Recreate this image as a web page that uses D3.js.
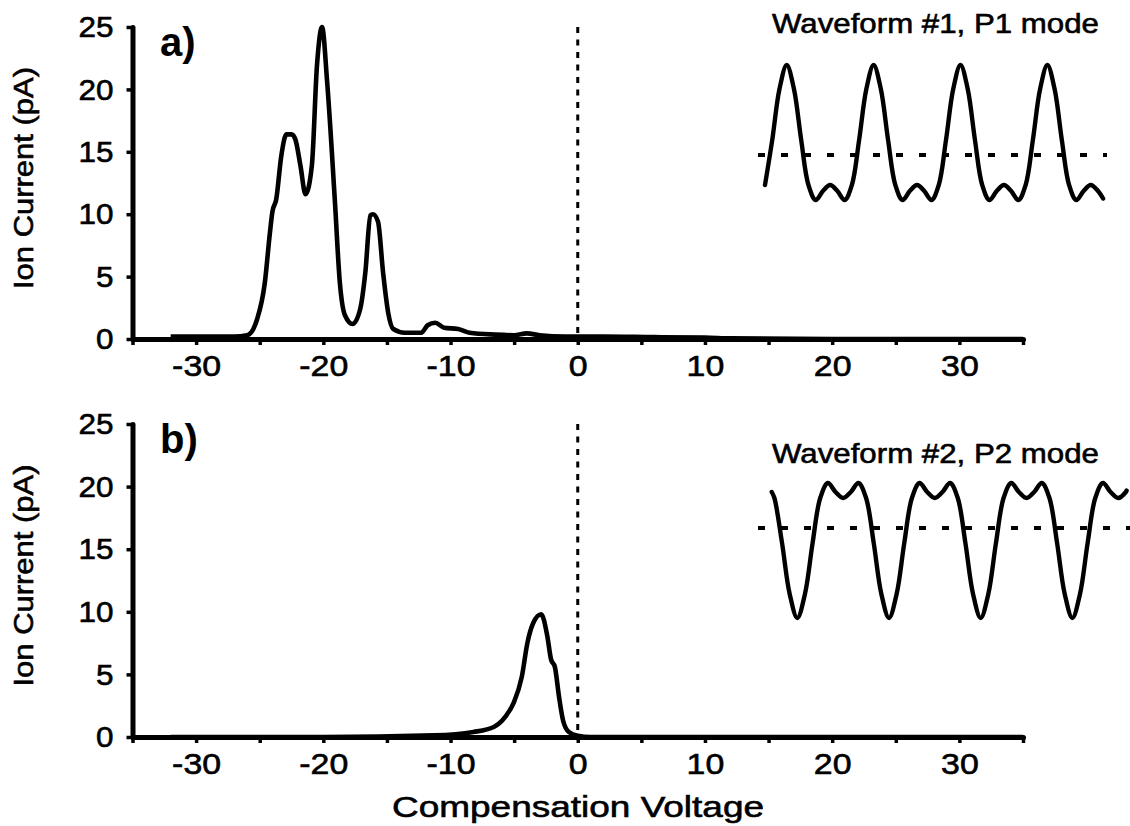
<!DOCTYPE html>
<html>
<head>
<meta charset="utf-8">
<script src="https://cdn.jsdelivr.net/npm/d3@7"></script>
<style>
  html, body { margin: 0; padding: 0; background: #fff; }
  svg { display: block; }
  text { font-family: "Liberation Sans", Arial, sans-serif; fill: #000; }
  text.heavy { stroke: #000; stroke-width: 0.6px; }
</style>
</head>
<body>
<svg id="chart" width="1130" height="826"></svg>
<script>
// ---- Data -------------------------------------------------------------
// Panel a: ion current (pA) vs compensation voltage (V), waveform #1 (P1 mode)
const cvA = [-32, -29, -27, -26, -25.5, -25.2, -24.6, -24.2, -24.0, -23.7, -23.3, -22.9, -22.5, -22.2, -21.8, -21.4, -20.9, -20.5, -20.1, -19.7, -19.1, -18.7, -18.3, -17.7, -17.1, -16.7, -16.3, -16.1, -15.7, -15.3, -14.9, -14.5, -13.6, -12.3, -11.8, -11.2, -10.5, -9.4, -8.5, -6.5, -5.0, -4.0, -3.0, -1.0, 2.0, 6.0, 10.0, 12.0, 20.0, 35.0];
const currentA = [0.2, 0.2, 0.2, 0.3, 0.8, 1.6, 4.5, 8.5, 10.2, 11.2, 14.7, 16.4, 16.4, 16.0, 13.9, 11.6, 13.9, 21.9, 25.0, 20.6, 11.2, 4.5, 1.9, 1.2, 2.4, 5.3, 9.9, 10.0, 9.4, 5.3, 2.1, 0.8, 0.5, 0.5, 1.1, 1.3, 0.9, 0.8, 0.5, 0.35, 0.3, 0.45, 0.3, 0.2, 0.2, 0.15, 0.12, 0.05, 0.0, 0.0];

// Panel b: ion current (pA) vs compensation voltage (V), waveform #2 (P2 mode)
const cvB = [-32, -20, -11.3, -8.2, -6.6, -5.7, -5.05, -4.4, -3.96, -3.5, -2.87, -2.4, -2.1, -1.8, -1.47, -1.15, -0.7, 0.0, 1.0, 35.0];
const currentB = [0.0, 0.0, 0.13, 0.4, 0.8, 1.6, 2.7, 4.8, 7.5, 9.1, 9.8, 8.1, 6.2, 5.6, 3.2, 1.3, 0.4, 0.1, 0.0, 0.0];

// Inset waveforms: sample index (12 samples per cycle) and relative voltage
const wave1T = [0, 1, 2, 3, 4, 5, 6, 7, 8, 9, 10, 11, 12, 13, 14, 15, 16, 17, 18, 19, 20, 21, 22, 23, 24, 25, 26, 27, 28, 29, 30, 31, 32, 33, 34, 35, 36, 37, 38, 39, 40, 41, 42, 43, 44, 45, 46, 46.7];
const wave1V = [-1, 0.5, 2.2, 3, 2.2, 0.5, -1, -1.5, -1.2, -1, -1.2, -1.5,
                -1, 0.5, 2.2, 3, 2.2, 0.5, -1, -1.5, -1.2, -1, -1.2, -1.5,
                -1, 0.5, 2.2, 3, 2.2, 0.5, -1, -1.5, -1.2, -1, -1.2, -1.5,
                -1, 0.5, 2.2, 3, 2.2, 0.5, -1, -1.5, -1.2, -1, -1.2, -1.45];

const wave2T = [-0.35, 0, 1, 2, 3, 4, 5, 6, 7, 8, 9, 10, 11, 12, 13, 14, 15, 16, 17, 18, 19, 20, 21, 22, 23, 24, 25, 26, 27, 28, 29, 30, 31, 32, 33, 34, 35, 36, 37, 38, 39, 40, 41, 42, 43, 44, 45, 46, 46.1];
const wave2V = [1.2, 1, -0.5, -2.2, -3, -2.2, -0.5, 1, 1.5, 1.2, 1, 1.2, 1.5,
                1, -0.5, -2.2, -3, -2.2, -0.5, 1, 1.5, 1.2, 1, 1.2, 1.5,
                1, -0.5, -2.2, -3, -2.2, -0.5, 1, 1.5, 1.2, 1, 1.2, 1.5,
                1, -0.5, -2.2, -3, -2.2, -0.5, 1, 1.5, 1.2, 1, 1.2, 1.25];

const xTicks = [-35, -30, -25, -20, -15, -10, -5, 0, 5, 10, 15, 20, 25, 30, 35];
const xTickLabels = [-30, -20, -10, 0, 10, 20, 30];
const yTicks = [0, 5, 10, 15, 20, 25];

const panels = [
  { tag: "a)", cv: cvA, current: currentA, top: 27, bottom: 339,
    title: "Waveform #1, P1 mode", waveT: wave1T, waveV: wave1V,
    waveX: [765, 7.24], waveZero: 155, titleY: 33, refEnd: 1107 },
  { tag: "b)", cv: cvB, current: currentB, top: 424, bottom: 737,
    title: "Waveform #2, P2 mode", waveT: wave2T, waveV: wave2V,
    waveX: [774.4, 7.64], waveZero: 528, titleY: 463, refEnd: 1130 }
];

// ---- Drawing ----------------------------------------------------------
const svg = d3.select("#chart");
const left = 132.5, right = 1023;
const x = d3.scaleLinear().domain([-35, 35]).range([left, right]);

panels.forEach((p) => {
  const y = d3.scaleLinear().domain([0, 25]).range([p.bottom, p.top]);
  const g = svg.append("g");

  // vertical dashed reference at CV = 0
  g.append("line")
    .attr("x1", x(0)).attr("x2", x(0))
    .attr("y1", y(25)).attr("y2", y(0))
    .attr("stroke", "#000").attr("stroke-width", 3)
    .attr("stroke-dasharray", "6,6.5");

  // ion current trace
  const line = d3.line()
    .x((d, i) => x(p.cv[i]))
    .y((d) => y(d))
    .curve(d3.curveMonotoneX);
  g.append("path")
    .datum(p.current)
    .attr("d", line)
    .attr("fill", "none")
    .attr("stroke", "#000")
    .attr("stroke-width", 4.6)
    .attr("stroke-linejoin", "round");

  // x axis
  const xAxis = d3.axisBottom(x)
    .tickValues(xTicks)
    .tickSize(6)
    .tickSizeOuter(0)
    .tickPadding(10)
    .tickFormat((d) => xTickLabels.includes(d) ? (d < 0 ? "-" + Math.abs(d) : String(d)) : "");
  const gx = g.append("g")
    .attr("transform", `translate(0,${p.bottom})`)
    .call(xAxis);
  gx.select(".domain").attr("stroke-width", 5).attr("stroke-linecap", "round");
  gx.selectAll(".tick line").attr("stroke-width", 3.5);
  gx.selectAll(".tick text")
    .attr("class", "heavy")
    .attr("font-size", 30)
    .attr("font-family", "Liberation Sans, Arial, sans-serif")
    .attr("transform", "scale(1.13,1)");

  // y axis
  const yAxis = d3.axisLeft(y)
    .tickValues(yTicks)
    .tickSize(6)
    .tickSizeOuter(0)
    .tickPadding(12)
    .tickFormat(d3.format("d"));
  const gy = g.append("g")
    .attr("transform", `translate(${left},0)`)
    .call(yAxis);
  gy.select(".domain").attr("stroke-width", 5).attr("stroke-linecap", "round");
  gy.selectAll(".tick line").attr("stroke-width", 3.5);
  gy.selectAll(".tick text")
    .attr("class", "heavy")
    .attr("font-size", 30)
    .attr("font-family", "Liberation Sans, Arial, sans-serif")
    .attr("transform", "scale(1.05,1)");

  // y axis title
  g.append("text")
    .attr("class", "heavy")
    .attr("transform", `translate(33,${(p.top + p.bottom) / 2 - 5}) rotate(-90)`)
    .attr("text-anchor", "middle")
    .attr("font-size", 28)
    .attr("textLength", 222)
    .attr("lengthAdjust", "spacingAndGlyphs")
    .text("Ion Current (pA)");

  // panel tag
  g.append("text")
    .attr("x", 160).attr("y", p.top + 29)
    .attr("font-size", 40)
    .attr("font-weight", "bold")
    .text(p.tag);

  // inset: applied waveform
  const wx = d3.scaleLinear().domain([0, 1]).range([p.waveX[0], p.waveX[0] + p.waveX[1]]);
  const wy = d3.scaleLinear().domain([0, 1]).range([p.waveZero, p.waveZero - 30]);

  g.append("text")
    .attr("class", "heavy")
    .attr("x", 772).attr("y", p.titleY)
    .attr("font-size", 28.5)
    .attr("textLength", 327)
    .attr("lengthAdjust", "spacingAndGlyphs")
    .text(p.title);

  g.append("line")
    .attr("x1", 757).attr("x2", p.refEnd)
    .attr("y1", wy(0)).attr("y2", wy(0))
    .attr("stroke", "#000").attr("stroke-width", 4)
    .attr("stroke-dasharray", "7,16")
    .attr("stroke-dashoffset", -1);

  const wLine = d3.line()
    .x((d, i) => wx(p.waveT[i]))
    .y((d) => wy(d))
    .curve(d3.curveCatmullRom.alpha(0.5));
  g.append("path")
    .datum(p.waveV)
    .attr("d", wLine)
    .attr("fill", "none")
    .attr("stroke", "#000")
    .attr("stroke-width", 4.4)
    .attr("stroke-linejoin", "round")
    .attr("stroke-linecap", "round");
});

// shared x axis title
svg.append("text")
  .attr("class", "heavy")
  .attr("x", 578).attr("y", 817)
  .attr("text-anchor", "middle")
  .attr("font-size", 30)
  .attr("textLength", 372)
  .attr("lengthAdjust", "spacingAndGlyphs")
  .text("Compensation Voltage");
</script>
</body>
</html>
